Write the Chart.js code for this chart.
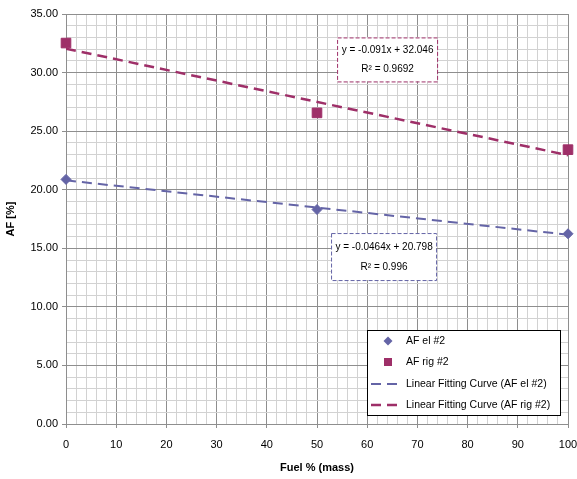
<!DOCTYPE html>
<html>
<head>
<meta charset="utf-8">
<script src="https://cdn.jsdelivr.net/npm/chart.js@4/dist/chart.umd.min.js"></script>
<style>
  html, body { margin: 0; padding: 0; background: #fff; }
  #wrap { width: 577px; height: 479px; }
</style>
</head>
<body>
<div id="wrap"><canvas id="afChart" width="577" height="479"></canvas></div>
<script>
// === Data ===
const fuelPct = [0, 50, 100];
const afEl = [20.88, 18.31, 16.24];
const afRig = [32.52, 26.56, 23.42];
const fitX = [0, 100];
const fitEl = [20.798, 16.158];
const fitRig = [32.046, 22.946];
const eqEl = ['y = -0.0464x + 20.798', 'R² = 0.996'];
const eqRig = ['y = -0.091x + 32.046', 'R² = 0.9692'];
const legendLabels = ['AF el #2', 'AF rig #2', 'Linear Fitting Curve (AF el #2)', 'Linear Fitting Curve (AF rig #2)'];

const colEl = '#6464a6';
const colRig = '#9e2f68';
const font = "'Liberation Sans', Arial, sans-serif";

const toXY = (xs, ys) => xs.map((x, i) => ({ x: x, y: ys[i] }));

// equation boxes (anchored in data coordinates)
const eqBoxes = {
  id: 'eqBoxes',
  afterDatasetsDraw(chart) {
    const { ctx, scales } = chart;
    const boxes = [
      { lines: eqRig, color: colRig, x: 54.0, y: 33.0, w: 100, h: 44 },
      { lines: eqEl, color: colEl, x: 52.8, y: 16.3, w: 105, h: 47 }
    ];
    ctx.save();
    boxes.forEach(b => {
      const px = scales.x.getPixelForValue(b.x);
      const py = scales.y.getPixelForValue(b.y);
      ctx.fillStyle = '#fff';
      ctx.fillRect(px, py, b.w, b.h);
      ctx.setLineDash([4, 2]);
      ctx.lineWidth = 1;
      ctx.strokeStyle = b.color;
      ctx.strokeRect(px + 0.5, py + 0.5, b.w, b.h);
      ctx.setLineDash([]);
      ctx.fillStyle = '#000';
      ctx.font = '10px ' + font;
      ctx.textAlign = 'center';
      ctx.textBaseline = 'middle';
      ctx.fillText(b.lines[0], px + b.w / 2 + 0.5, py + b.h * 0.3);
      ctx.fillText(b.lines[1], px + b.w / 2 + 0.5, py + b.h * 0.72);
    });
    ctx.restore();
  }
};

// legend box inside plot, bottom right
const boxLegend = {
  id: 'boxLegend',
  afterDraw(chart) {
    const { ctx } = chart;
    const x0 = 367, y0 = 330, w = 193, h = 85;
    ctx.save();
    ctx.fillStyle = '#fff';
    ctx.fillRect(x0, y0, w, h);
    ctx.lineWidth = 1;
    ctx.strokeStyle = '#000';
    ctx.strokeRect(x0 + 0.5, y0 + 0.5, w, h);
    const rows = [341, 362, 384, 405];
    chart.data.datasets.forEach((ds, i) => {
      const y = rows[i];
      if (i === 0) {
        ctx.fillStyle = colEl;
        ctx.beginPath();
        ctx.moveTo(388, y - 4.5); ctx.lineTo(392.5, y); ctx.lineTo(388, y + 4.5); ctx.lineTo(383.5, y);
        ctx.closePath(); ctx.fill();
      } else if (i === 1) {
        ctx.fillStyle = colRig;
        ctx.fillRect(384, y - 4, 8, 8);
      } else {
        ctx.strokeStyle = ds.borderColor;
        ctx.lineWidth = ds.borderWidth;
        ctx.setLineDash([10, 6]);
        ctx.beginPath(); ctx.moveTo(371, y); ctx.lineTo(401, y); ctx.stroke();
        ctx.setLineDash([]);
      }
      ctx.fillStyle = '#000';
      ctx.font = '10.5px ' + font;
      ctx.textAlign = 'left';
      ctx.textBaseline = 'middle';
      ctx.fillText(legendLabels[i], 406, y);
    });
    ctx.restore();
  }
};

const ctx = document.getElementById('afChart').getContext('2d');
new Chart(ctx, {
  type: 'scatter',
  data: {
    datasets: [
      {
        label: legendLabels[0],
        data: toXY(fuelPct, afEl),
        pointStyle: 'rectRot', pointRadius: 5, clip: false,
        backgroundColor: colEl, borderColor: colEl, showLine: false, order: 0
      },
      {
        label: legendLabels[1],
        data: toXY(fuelPct, afRig),
        pointStyle: 'rect', pointRadius: 6.8, clip: false,
        backgroundColor: colRig, borderColor: colRig, showLine: false, order: 0
      },
      {
        label: legendLabels[2],
        data: toXY(fitX, fitEl),
        showLine: true, pointRadius: 0, borderColor: colEl, borderWidth: 2,
        borderDash: [10, 6], order: 1
      },
      {
        label: legendLabels[3],
        data: toXY(fitX, fitRig),
        showLine: true, pointRadius: 0, borderColor: colRig, borderWidth: 2.5,
        borderDash: [10, 6], order: 1
      }
    ]
  },
  options: {
    responsive: false,
    animation: false,
    layout: { padding: { left: 0, right: 9, top: 14, bottom: 0 } },
    plugins: {
      legend: { display: false },
      tooltip: { enabled: false }
    },
    scales: {
      x: {
        type: 'linear', min: 0, max: 100,
        afterFit(scale) { scale.height = 55; scale.paddingRight = 0; scale.paddingLeft = 0; },
        ticks: {
          stepSize: 2, autoSkip: false, maxRotation: 0, padding: 10,
          color: '#000', font: { family: font, size: 11 },
          callback: v => (v % 10 === 0 ? String(v) : '')
        },
        grid: {
          color: c => (c.tick && c.tick.value % 10 === 0 ? '#8e8e8e' : '#d2d2d2'),
          tickColor: c => (c.tick && c.tick.value % 10 === 0 ? '#8e8e8e' : 'rgba(0,0,0,0)'),
          tickLength: 4
        },
        border: { color: '#8e8e8e' },
        title: {
          display: true, text: 'Fuel % (mass)', color: '#000',
          font: { family: font, size: 11, weight: 'bold' }, padding: { top: 5 }
        }
      },
      y: {
        type: 'linear', min: 0, max: 35,
        afterFit(scale) { scale.width = 66; },
        ticks: {
          stepSize: 1, autoSkip: false, padding: 4,
          color: '#000', font: { family: font, size: 11 },
          callback: v => (v % 5 === 0 ? v.toFixed(2) : '')
        },
        grid: {
          color: c => (c.tick && c.tick.value % 5 === 0 ? '#8e8e8e' : '#d2d2d2'),
          tickColor: c => (c.tick && c.tick.value % 5 === 0 ? '#8e8e8e' : 'rgba(0,0,0,0)'),
          tickLength: 4
        },
        border: { color: '#8e8e8e' },
        title: {
          display: true, text: 'AF [%]', color: '#000',
          font: { family: font, size: 11, weight: 'bold' }
        }
      }
    }
  },
  plugins: [eqBoxes, boxLegend]
});
</script>
</body>
</html>
